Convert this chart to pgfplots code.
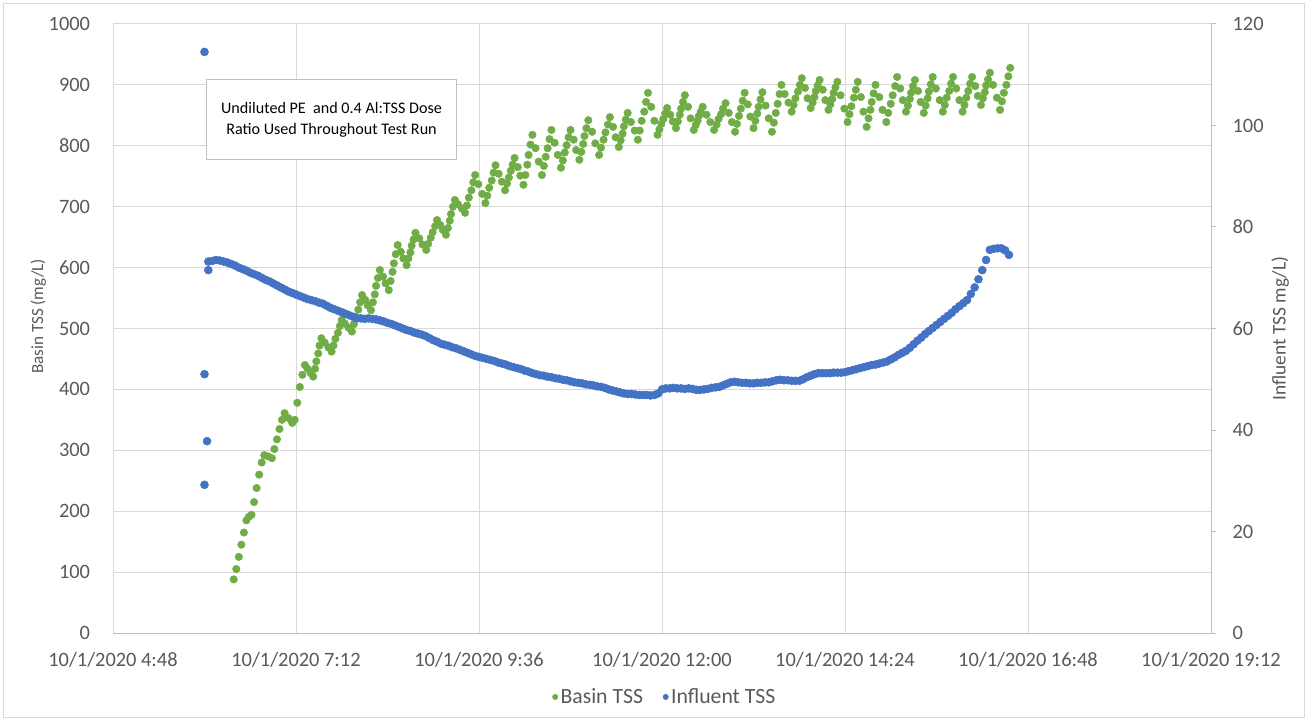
\documentclass[border=0pt]{standalone}
\usepackage{fontspec}
\setmainfont{Carlito}
\usepackage{pgfplots}
\pgfplotsset{compat=1.18}
\usepackage{pgfplotstable}

\definecolor{basingreen}{RGB}{112,173,71}
\definecolor{influentblue}{RGB}{68,114,196}
\definecolor{gridgray}{RGB}{217,217,217}
\definecolor{axisgray}{RGB}{191,191,191}
\definecolor{labelgray}{RGB}{89,89,89}

% Time in minutes after midnight on 10/1/2020, basin TSS in mg/L
\pgfplotstableread{
t tss
383 88
385 105
387 125
389 145
391 165
393 185
395 191
397 194
399 215
401 238
403 260
405 280
407 292
410 290
413 287
415 302
417 318
419 335
421 350
423 361
426 353
429 345
431 350
433 378
435 404
437 424
439 440
441 434
443.5 427
445.5 421
447 434
448 446
449.5 459
450.5 472
452 484
454.5 477
457.5 469
460 462
461.5 472
463 483
465 493
466.5 504
468 514
470.5 508
473.5 501
476 495
477.5 507
479 519
481 531
482.5 543
484 555
486.5 547
488.5 538
491 530
492.5 543
494 556
495 570
496.5 583
498 596
500.5 585
502.5 574
505 563
506.5 578
508 593
509 607
510.5 622
512 637
514.5 626
516.5 615
519 604
520.5 615
522 625
523 636
524.5 646
526 657
529 648
531.5 638
534.5 629
536 639
538 649
539.5 658
541.5 668
543 678
545.5 670
547.5 662
550 654
551.5 665
553 677
554 688
555.5 700
557 711
559.5 704
562.5 697
565 690
566.5 702
568 715
570 727
571.5 740
573 752
575.5 737
578.5 721
581 706
582.5 718
584 731
586 743
587.5 756
589 768
591.5 754
594 741
596.5 727
598 738
599.5 748
601 759
602.5 769
604 780
606.5 765
608.5 751
611 736
612.5 752
614 769
615 785
616.5 802
618 818
620.5 796
623 774
625.5 752
627 767
628.5 782
630 796
631.5 811
633 826
635.5 805
638 785
640.5 764
642 776
643.5 789
645 801
646.5 814
648 826
650.5 810
652.5 793
655 777
656.5 790
658 803
659 816
660.5 829
662 842
665 823
667.5 804
670.5 785
672 797
674 810
675.5 822
677.5 835
679 847
681.5 831
683.5 814
686 798
687.5 809
689 820
690 832
691.5 843
693 854
695.5 839
698.5 825
701 810
702.5 825
704 841
706 856
707.5 872
709 887
711.5 864
714 841
716.5 818
718 827
719.5 836
721 844
722.5 853
724 862
726.5 851
728.5 840
731 829
732.5 840
734 851
735 861
736.5 872
738 883
740.5 864
742.5 845
745 826
746.5 834
748 841
749 849
750.5 856
752 864
755 851
758 839
761 826
763 835
764.5 844
766.5 852
768 861
770 870
772.5 854
775 839
777.5 823
779 836
780.5 849
782 861
783.5 874
785 887
787.5 868
789.5 848
792 829
793.5 841
795 853
796 864
797.5 876
799 888
801.5 866
804 845
806.5 823
808 838
809.5 854
811 869
812.5 885
814 900
816.5 885
819.5 871
822 856
823.5 867
825 878
827 889
828.5 900
830 911
832.5 895
834.5 878
837 862
838.5 871
840 880
841 890
842.5 899
844 908
846.5 892
848.5 875
851 859
852.5 868
854 877
855 887
856.5 896
858 905
860.5 883
863.5 861
866 839
867.5 852
869 865
871 879
872.5 892
874 905
876.5 880
878.5 856
881 831
882.5 845
884 859
885 872
886.5 886
888 900
891 880
893.5 859
896.5 839
898 854
900 869
901.5 883
903.5 898
905 913
907.5 894
909.5 875
912 856
913.5 866
915 877
916 887
917.5 898
919 908
921.5 890
923.5 872
926 854
927.5 866
929 878
930 889
931.5 901
933 913
935.5 894
938.5 875
941 856
942.5 867
944 879
946 890
947.5 902
949 913
951.5 894
954 875
956.5 856
958 867
959.5 879
961 890
962.5 902
964 913
966.5 898
968.5 882
971 867
972.5 878
974 888
975 899
976.5 909
978 920
980.5 900
983.5 879
986 859
987.5 873
989 887
991 900
992.5 914
994 928
}\basin

% Influent TSS in mg/L
\pgfplotstableread{
t tss
360 114.5
363 71.5
360 51.0
362 37.8
360 29.2
363 73.2
366 73.3
369 73.5
372 73.4
375 73.2
378 73.0
381 72.7
384 72.4
387 72.0
390 71.7
393 71.4
396 71.0
399 70.7
402 70.4
405 70.0
408 69.6
411 69.3
414 68.9
417 68.5
420 68.1
423 67.7
426 67.3
429 67.0
432 66.7
435 66.4
438 66.1
441 65.8
444 65.6
447 65.4
450 65.1
453 64.9
456 64.5
459 64.1
462 63.8
465 63.5
468 63.2
471 62.9
474 62.6
477 62.3
480 62.0
483 62.0
486 61.9
489 62.0
492 61.9
495 61.8
498 61.6
501 61.4
504 61.1
507 60.9
510 60.6
513 60.3
516 60.0
519 59.7
522 59.5
525 59.2
528 59.0
531 58.8
534 58.5
537 58.1
540 57.7
543 57.4
546 57.0
549 56.8
552 56.6
555 56.3
558 56.1
561 55.8
564 55.5
567 55.2
570 54.9
573 54.6
576 54.4
579 54.2
582 54.0
585 53.8
588 53.6
591 53.3
594 53.1
597 52.9
600 52.6
603 52.4
606 52.2
609 52.0
612 51.7
615 51.5
618 51.2
621 51.0
624 50.8
627 50.7
630 50.5
633 50.4
636 50.2
639 50.1
642 49.9
645 49.8
648 49.6
651 49.4
654 49.3
657 49.2
660 49.0
663 48.9
666 48.8
669 48.6
672 48.5
675 48.3
678 48.0
681 47.8
684 47.6
687 47.4
690 47.2
693 47.1
696 47.1
699 47.0
702 46.9
705 46.9
708 46.9
711 46.8
714 46.9
717 47.2
720 48.0
723 48.2
726 48.2
729 48.3
732 48.2
735 48.2
738 48.1
741 48.2
744 48.1
747 47.9
750 47.9
753 48.0
756 48.1
759 48.3
762 48.4
765 48.5
768 48.8
771 49.1
774 49.4
777 49.5
780 49.4
783 49.3
786 49.3
789 49.2
792 49.2
795 49.3
798 49.3
801 49.4
804 49.4
807 49.6
810 49.8
813 49.9
816 49.8
819 49.8
822 49.7
825 49.7
828 49.7
831 50.0
834 50.4
837 50.7
840 51.0
843 51.2
846 51.2
849 51.2
852 51.2
855 51.3
858 51.3
861 51.3
864 51.4
867 51.6
870 51.8
873 52.0
876 52.2
879 52.4
882 52.6
885 52.8
888 52.9
891 53.1
894 53.3
897 53.5
900 53.9
903 54.3
906 54.8
909 55.2
912 55.6
915 56.2
918 56.9
921 57.6
924 58.2
927 58.9
930 59.5
933 60.1
936 60.7
939 61.3
942 61.9
945 62.5
948 63.1
951 63.8
954 64.4
957 65.0
960 65.6
963 66.8
966 68.1
969 69.7
972 71.5
975 73.5
978 75.5
981 75.7
984 75.8
987 75.8
990 75.4
993 74.5
}\influent

\pgfplotsset{
  tssaxis/.style={
    scale only axis,
    width=823.5pt, height=456.75pt,
    at={(0pt,0pt)}, anchor=south west,
    xmin=288, xmax=1152,
    /pgf/number format/assume math mode=true,
    /pgf/number format/set thousands separator={},
    tick label style={font=\fontsize{15.3}{17}\selectfont, text=labelgray, inner sep=0pt},
    label style={text=labelgray},
  },
}

\begin{document}
\begin{tikzpicture}
\path[use as bounding box] (-84.75pt,-66pt) rectangle (896.25pt,474.75pt);
\draw[gridgray, line width=0.75pt] (-81.75pt,-63pt) rectangle (893.25pt,471.75pt);

\begin{axis}[
  tssaxis,
  ymin=0, ymax=1000,
  xtick={288,432,576,720,864,1008,1152},
  xticklabels={10/1/2020 4:48, 10/1/2020 7:12, 10/1/2020 9:36, 10/1/2020 12:00, 10/1/2020 14:24, 10/1/2020 16:48, 10/1/2020 19:12},
  ytick={0,100,...,1000},
  axis x line*=bottom, axis y line*=left,
  x axis line style={draw=axisgray, line width=0.75pt},
  y axis line style={draw=none},
  major tick length=0pt,
  xmajorgrids, ymajorgrids,
  grid style={gridgray, line width=0.75pt},
  xticklabel style={anchor=center, yshift=-20.5pt},
  yticklabel style={anchor=east, xshift=-17pt},
  ylabel={Basin TSS (mg/L)},
  ylabel style={at={(axis description cs:-0.068,0.52)}, anchor=center, font=\fontsize{12.8}{15}\selectfont},
]
\addplot[only marks, mark=*, mark size=2.8pt, draw=basingreen, fill=basingreen] table[x=t, y=tss] {\basin};
\end{axis}

\begin{axis}[
  tssaxis,
  ymin=0, ymax=120,
  ytick={0,20,...,120},
  axis x line=none, axis y line*=right,
  y axis line style={draw=axisgray, line width=0.75pt},
  ytick style={draw=axisgray, line width=0.75pt},
  tick align=outside, major tick length=4pt,
  yticklabel style={anchor=west, xshift=12pt},
  ylabel={Influent TSS mg/L)},
  ylabel style={at={(axis description cs:1.063,0.50)}, anchor=center, font=\fontsize{14.5}{16}\selectfont},
  legend style={at={(0.503,-0.105)}, anchor=center, draw=none, fill=none,
    legend columns=2, font=\fontsize{16.3}{18}\selectfont, text=labelgray,
    /tikz/every even column/.append style={column sep=13pt}},
  legend cell align=left,
  legend entries={Basin TSS, Influent TSS},
]
\addlegendimage{only marks, mark=*, mark size=2pt, draw=basingreen, fill=basingreen}
\addlegendimage{only marks, mark=*, mark size=2pt, draw=influentblue, fill=influentblue}
\addplot[only marks, mark=*, mark size=3pt, draw=influentblue, fill=influentblue, forget plot] table[x=t, y=tss] {\influent};
\end{axis}

\node[draw=axisgray, fill=white, line width=0.75pt, minimum width=188pt, minimum height=60pt,
  align=center, font=\fontsize{12.1}{15.5}\selectfont, text=black] at (163.9pt,384.75pt)
  {Undiluted PE\ \ and 0.4 Al:TSS Dose\\Ratio Used Throughout Test Run};
\end{tikzpicture}
\end{document}
